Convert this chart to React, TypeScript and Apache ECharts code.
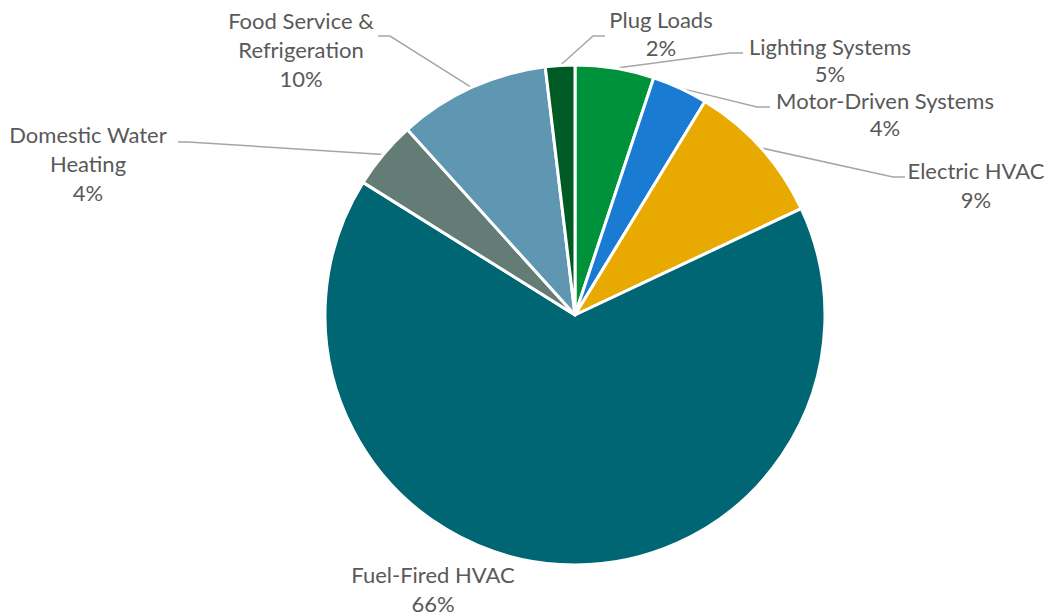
import React, { useEffect, useRef } from "react";
import * as echarts from "echarts";

const categories = [
  "Lighting Systems",
  "Motor-Driven Systems",
  "Electric HVAC",
  "Fuel-Fired HVAC",
  "Domestic Water\nHeating",
  "Food Service &\nRefrigeration",
  "Plug Loads",
];
const shares = [5.1, 3.6, 9.3, 65.9, 4.4, 9.8, 1.9];
const colors = ["#00923A", "#1A7BD3", "#E8A900", "#006674", "#637C75", "#5F97B2", "#005A24"];

// label layout (block centre, line height, elbow and end of leader line) in pixels
const labelPos: { x: number; y: number; lh: number; elbow?: number[]; end?: number[] }[] = [
  { x: 830, y: 60, lh: 27, elbow: [730, 53], end: [743, 53] },
  { x: 885, y: 114, lh: 27, elbow: [757, 107], end: [770, 107] },
  { x: 976, y: 185, lh: 29, elbow: [893, 177], end: [905, 177] },
  { x: 433, y: 589, lh: 29 },
  { x: 88, y: 163, lh: 29, elbow: [188, 142], end: [178, 142] },
  { x: 301, y: 49, lh: 29, elbow: [390, 36], end: [378, 36] },
  { x: 661, y: 33, lh: 28, elbow: [593, 36], end: [605, 36] },
];

export default function App() {
  const ref = useRef<HTMLDivElement>(null);
  useEffect(() => {
    document.body.style.margin = "0";
    if (!ref.current) return;
    const chart = echarts.init(ref.current, null, { renderer: "svg" });
    chart.setOption({
      animation: false,
      backgroundColor: "#ffffff",
      series: [
        {
          type: "pie",
          center: [575, 315],
          radius: [0, 250],
          startAngle: 90,
          clockwise: true,
          avoidLabelOverlap: false,
          percentPrecision: 0,
          itemStyle: { borderColor: "#ffffff", borderWidth: 3 },
          label: {
            show: true,
            position: "outside",
            formatter: "{b}\n{d}%",
            color: "#595959",
            fontFamily: "Lato",
            fontSize: 22,
            lineHeight: 29,
            align: "center",
          },
          labelLine: {
            show: true,
            length: 20,
            length2: 10,
            smooth: false,
            lineStyle: { color: "#A6A6A6", width: 1.5 },
          },
          labelLayout: (params: any) => {
            const p = labelPos[params.dataIndex];
            const res: any = {
              x: p.x,
              y: p.y,
              align: "center",
              verticalAlign: "middle",
            };
            const pts = params.labelLinePoints;
            if (pts && pts.length && p.elbow && p.end) {
              res.labelLinePoints = [pts[0], p.elbow, p.end];
            }
            return res;
          },
          data: categories.map((name, i) => ({
            name,
            value: shares[i],
            itemStyle: { color: colors[i] },
            label: { lineHeight: labelPos[i].lh },
            labelLine: { show: !!labelPos[i].end },
          })),
        },
      ],
    });
    return () => chart.dispose();
  }, []);
  return <div ref={ref} style={{ width: 1045, height: 616 }} />;
}
